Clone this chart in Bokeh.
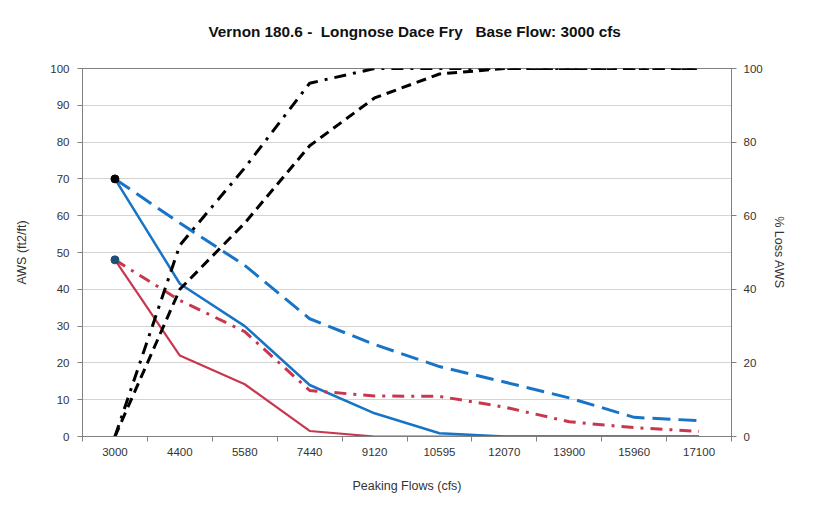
from bokeh.plotting import figure
from bokeh.models import Range1d, LinearAxis, FixedTicker, Title
from bokeh.embed import file_html
from bokeh.resources import INLINE

# ---- data ----
flows = ["3000", "4400", "5580", "7440", "9120", "10595", "12070", "13900", "15960", "17100"]

aws_solid_blue = [70, 41.5, 30, 14, 6.3, 0.9, 0, 0, 0, 0]
aws_dash_blue = [70, 58, 46.5, 32, 25, 19, 14.8, 10.5, 5.2, 4.3]
aws_solid_red = [48, 22, 14.2, 1.5, 0, 0, 0, 0, 0, 0]
aws_dashdot_red = [48, 37, 28.5, 12.5, 11, 10.9, 8, 4, 2.4, 1.4]

loss_dashdot_black = [0, 52, 73, 96, 100, 100, 100, 100, 100, 100]
loss_dash_black = [0, 40, 58, 79, 92, 98.5, 100, 100, 100, 100]

marker_flow = ["3000", "3000"]
marker_vals = [70, 48]
marker_colors = ["#000000", "#1F4E79"]

y_ticks = [0, 10, 20, 30, 40, 50, 60, 70, 80, 90, 100]
y2_ticks = [0, 20, 40, 60, 80, 100]

TITLE = "Vernon 180.6 -\u00a0\u00a0Longnose Dace Fry\u00a0\u00a0\u00a0Base Flow: 3000 cfs"

xpos = list(range(len(flows)))
mpos = [flows.index(f) for f in marker_flow]

FONT = "Liberation Sans"
BLUE = "#1874C6"
RED = "#C8374E"

p = figure(frame_width=649, frame_height=368, output_backend="svg", toolbar_location=None,
           x_range=Range1d(-0.5, len(flows) - 0.5), y_range=Range1d(0, 100),
           min_border_left=82, min_border_right=80, min_border_top=68, min_border_bottom=62)
p.extra_y_ranges = {"loss": Range1d(0, 100)}

# second (blank) line lifts the title to sit higher above the frame
p.title = Title(text=TITLE + "\n\u00a0", align="left", vertical_align="bottom",
                text_font=FONT, text_font_size="15.3px", text_font_style="bold",
                text_color="#111111", offset=126, standoff=24)

p.outline_line_color = "#808080"
p.xgrid.grid_line_color = None
p.ygrid.grid_line_color = "#d4d4d4"
p.ygrid.ticker = FixedTicker(ticks=y_ticks)

# x axis
xa = p.xaxis[0]
xa.ticker = FixedTicker(ticks=xpos, minor_ticks=[i - 0.5 for i in range(len(flows) + 1)])
xa.major_label_overrides = {i: f for i, f in enumerate(flows)}
xa.major_tick_line_color = None
xa.major_tick_out = 0
xa.major_tick_in = 0
xa.minor_tick_out = 5
xa.minor_tick_in = 0
xa.minor_tick_line_color = "#808080"
xa.axis_line_color = "#808080"
xa.major_label_standoff = 6
xa.axis_label = "Peaking Flows (cfs)"
xa.axis_label_standoff = 20

# left axis
ya = p.yaxis[0]
ya.ticker = FixedTicker(ticks=y_ticks)
ya.axis_label = "AWS (ft2/ft)"
ya.axis_label_standoff = 18
ya.major_tick_out = 5
ya.major_tick_in = 0
ya.minor_tick_line_color = None
ya.major_tick_line_color = "#808080"
ya.axis_line_color = "#808080"
ya.major_label_standoff = 8

# right axis
ra = LinearAxis(y_range_name="loss", ticker=FixedTicker(ticks=y2_ticks),
                axis_label="% Loss AWS")
ra.axis_label_standoff = 6
ra.major_tick_out = 5
ra.major_tick_in = 0
ra.minor_tick_line_color = None
ra.major_tick_line_color = "#808080"
ra.axis_line_color = "#808080"
ra.major_label_standoff = 7
p.add_layout(ra, "right")

for ax in (xa, ya, ra):
    ax.major_label_text_font = FONT
    ax.major_label_text_font_size = "11.5px"
    ax.major_label_text_color = "#333333"
    ax.axis_label_text_font = FONT
    ax.axis_label_text_font_size = "12.5px"
    ax.axis_label_text_font_style = "normal"
    ax.axis_label_text_color = "#333333"

# series
p.line(xpos, aws_dash_blue, line_color=BLUE, line_width=3, line_dash="18 8")
p.line(xpos, aws_solid_blue, line_color=BLUE, line_width=2.5)
p.line(xpos, aws_dashdot_red, line_color=RED, line_width=3, line_dash="12 7 3 7")
p.line(xpos, aws_solid_red, line_color=RED, line_width=2.2)
p.line(xpos, loss_dashdot_black, line_color="#000000", line_width=3,
       line_dash="12 7 3 7", y_range_name="loss")
p.line(xpos, loss_dash_black, line_color="#000000", line_width=3,
       line_dash="10 6", y_range_name="loss")
p.scatter(mpos, marker_vals, size=8, fill_color=marker_colors, line_color=marker_colors)

open("out.html", "w").write(file_html(p, INLINE))
